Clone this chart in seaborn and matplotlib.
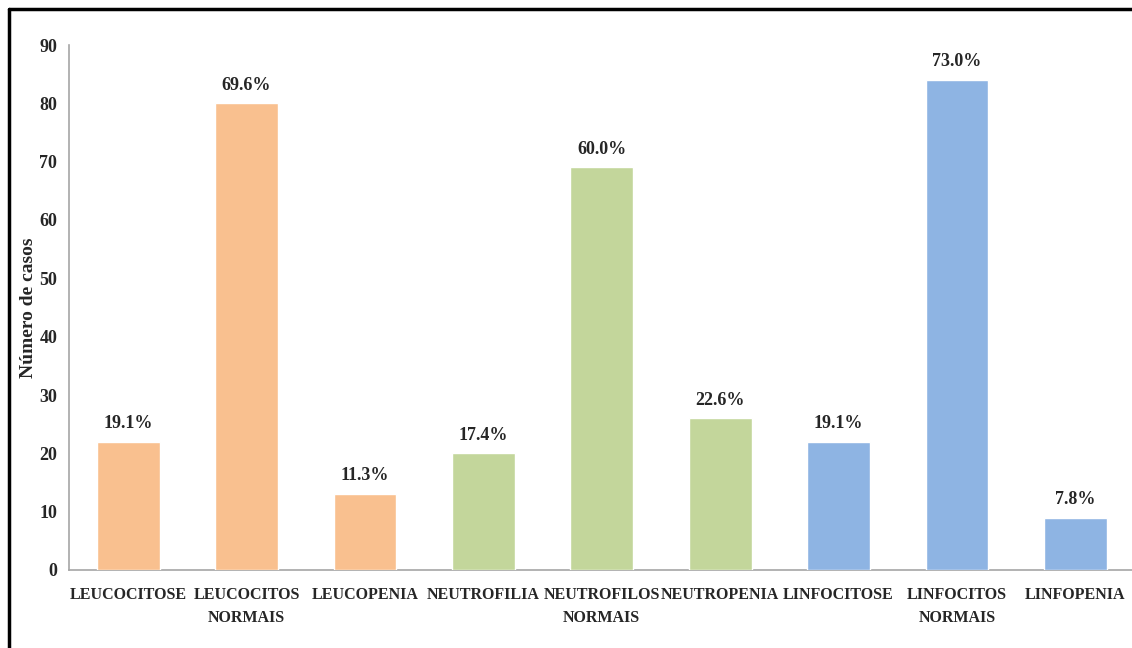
import matplotlib
matplotlib.use("Agg")
import matplotlib.pyplot as plt
from matplotlib.lines import Line2D
import seaborn as sns
import pandas as pd
import numpy as np

# Hemogram findings: number of cases per category
categorias = ["LEUCOCITOSE", "LEUCOCITOS\nNORMAIS", "LEUCOPENIA",
              "NEUTROFILIA", "NEUTROFILOS\nNORMAIS", "NEUTROPENIA",
              "LINFOCITOSE", "LINFOCITOS\nNORMAIS", "LINFOPENIA"]
casos = [22, 80, 13, 20, 69, 26, 22, 84, 9]
total_pacientes = 115
cores = ["#F9C08F", "#F9C08F", "#F9C08F",
         "#C3D69B", "#C3D69B", "#C3D69B",
         "#8EB4E3", "#8EB4E3", "#8EB4E3"]
y_ticks = [0, 10, 20, 30, 40, 50, 60, 70, 80, 90]

df = pd.DataFrame({"categoria": categorias, "casos": casos})
percentuais = [c / total_pacientes * 100 for c in casos]

sns.set_style("white")
plt.rcParams["font.family"] = ["Liberation Serif", "DejaVu Serif"]
plt.rcParams["font.weight"] = "bold"

fig = plt.figure(figsize=(11.32, 6.48), dpi=100)
ax = fig.add_axes([69 / 1132, 1 - 570 / 648, (1134.5 - 69) / 1132, (570 - 45) / 648])

sns.barplot(data=df, x="categoria", y="casos", hue="categoria",
            palette=cores, legend=False, width=0.53, ax=ax,
            saturation=1, zorder=3)

ax.set_ylim(0, 90)
ax.set_xlim(-0.5, len(categorias) - 0.5)
ax.set_yticks(y_ticks)
ax.set_yticklabels([str(t) for t in y_ticks], fontsize=13, fontweight="bold")

# Category separators as major ticks, labels on minor ticks
ax.set_xticks(np.arange(-0.5, len(categorias), 1.0))
ax.set_xticklabels([])
ax.set_xticks(np.arange(len(categorias)), minor=True)
ax.set_xticklabels(categorias, minor=True, fontsize=11.5, fontweight="bold",
                   linespacing=1.6)
ax.tick_params(axis="x", which="major", length=8, width=1, color="#A6A6A6",
               direction="out")
ax.tick_params(axis="x", which="minor", length=0, pad=12)
ax.tick_params(axis="y", length=5, width=1, color="#A6A6A6", direction="out",
               pad=3.5)

for s in ["top", "right"]:
    ax.spines[s].set_visible(False)
for s in ["left", "bottom"]:
    ax.spines[s].set_color("#A6A6A6")
    ax.spines[s].set_linewidth(1.2)
    ax.spines[s].set_zorder(2)

ax.set_xlabel("")
ax.set_ylabel("Número de casos", fontsize=14, fontweight="bold")
ax.yaxis.set_label_coords((37 - 69) / 1065.5, 0.5)

# Percentage labels above each bar
for i, (c, p) in enumerate(zip(casos, percentuais)):
    ax.annotate(f"{p:.1f}%", xy=(i, c), xytext=(0, 7), textcoords="offset points",
                ha="center", va="bottom", fontsize=13, fontweight="bold")

# Outer frame of the figure
fig.add_artist(Line2D([9 / 1132, 1.01], [1 - 9 / 648, 1 - 9 / 648],
                      transform=fig.transFigure, color="black", lw=2.5))
fig.add_artist(Line2D([9 / 1132, 9 / 1132], [-0.01, 1 - 9 / 648],
                      transform=fig.transFigure, color="black", lw=2.5))

fig.savefig("out.png", dpi=100)
